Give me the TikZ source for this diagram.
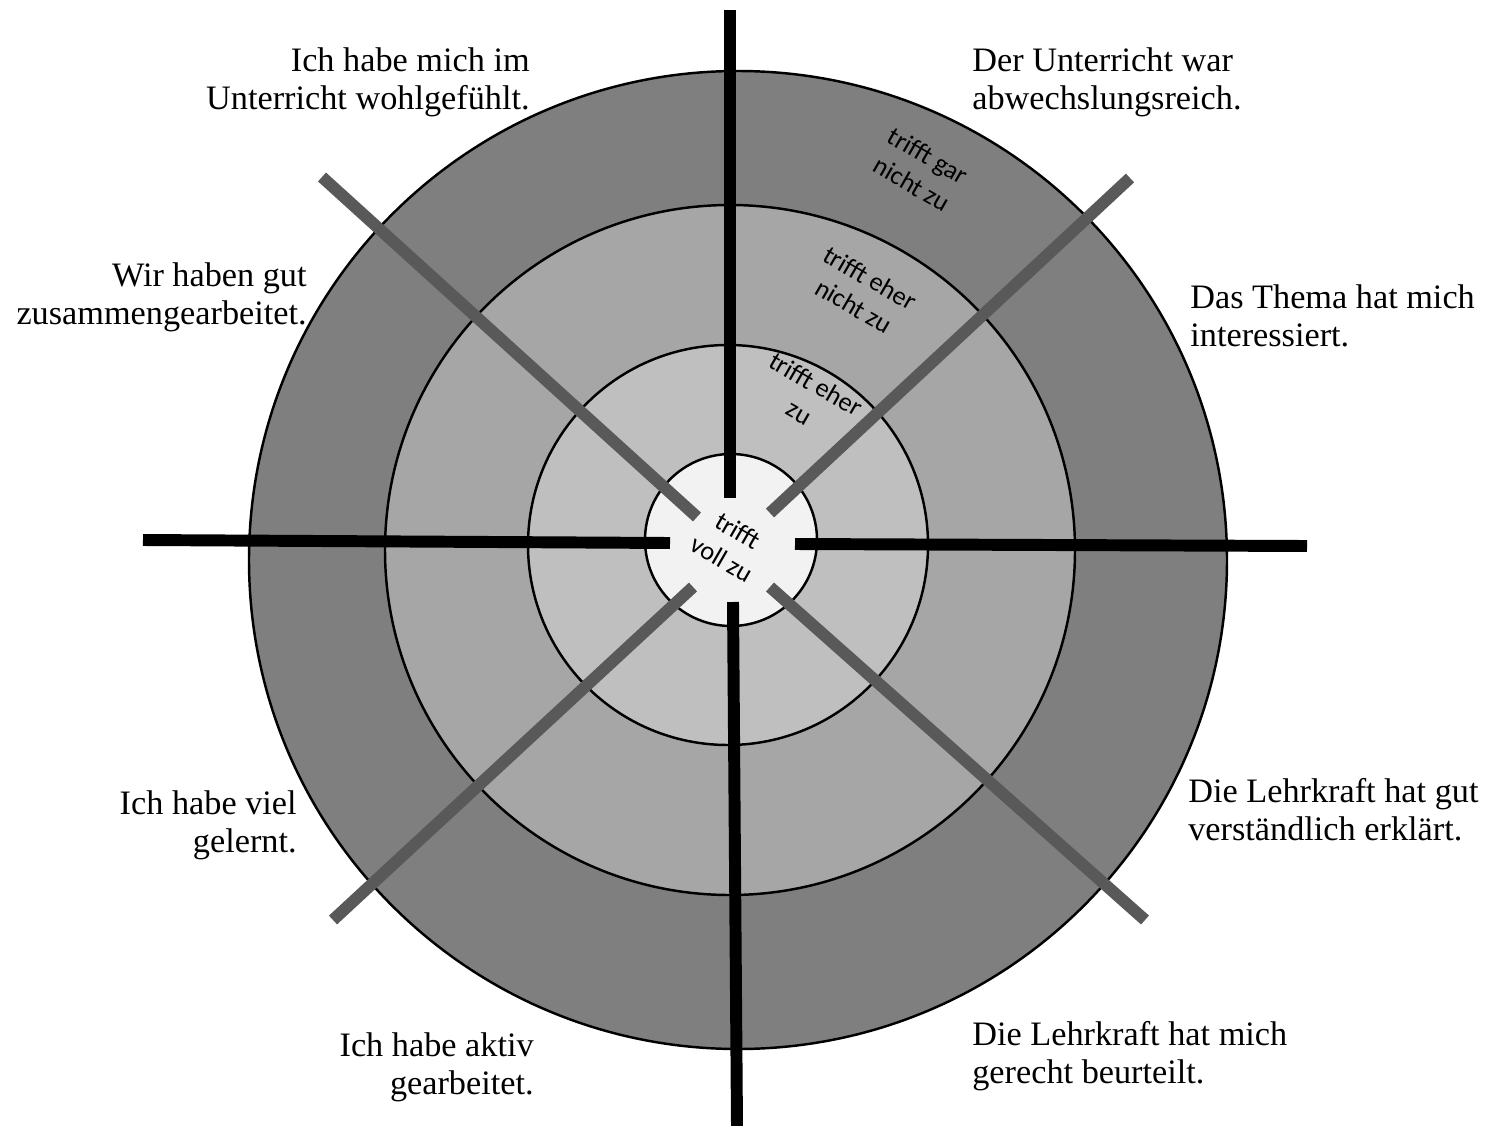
\documentclass[tikz,border=0pt]{standalone}
\usepackage{fontspec}
\setmainfont{Liberation Serif}
\newfontfamily\ringfont{Carlito}
\usepackage{xcolor}
\usetikzlibrary{positioning}

\definecolor{ringouter}{HTML}{7F7F7F}
\definecolor{ringtwo}{HTML}{A6A6A6}
\definecolor{ringthree}{HTML}{BFBFBF}
\definecolor{ringcenter}{HTML}{F2F2F2}
\definecolor{spokegray}{HTML}{595959}

\tikzset{
  ring/.style={draw=black, line width=1.4pt},
  mainspoke/.style={draw=black, line width=6.8pt},
  diagspoke/.style={draw=spokegray, line width=6.8pt},
  question/.style={font=\fontsize{19.5}{21.6}\selectfont, inner sep=0pt},
  level/.style={font=\ringfont\fontsize{15}{18.5}\selectfont, align=center, inner sep=0pt, rotate=-30}
}

\begin{document}
\begin{tikzpicture}[x=0.02cm, y=-0.02cm]
    \useasboundingbox (0,0) rectangle (1485,1126);

    % Rings
    \filldraw[ring, fill=ringouter] (738,560) circle (489);
    \filldraw[ring, fill=ringtwo] (730,550) circle (345);
    \filldraw[ring, fill=ringthree] (728,545) circle (200);
    \filldraw[ring, fill=ringcenter] (731,540) circle (86);

    % Level labels
    \node[level] (gar) at (920,170) {trifft gar\\nicht zu};
    \node[level] (ehernicht) at (862,292) {trifft eher\\nicht zu};
    \node[level] (eher) at (808,398) {trifft eher\\zu};
    \node[level] (voll) at (730,545) {trifft\\voll zu};

    % Spoke ends
    \coordinate (top) at (730,10);
    \coordinate (topin) at (730,498);
    \coordinate (bottom) at (737,1126);
    \coordinate (bottomin) at (733,602);
    \coordinate (left) at (143,540);
    \coordinate (leftin) at (670,543);
    \coordinate (right) at (1307,546);
    \coordinate (rightin) at (795,544);
    \coordinate (ul) at (322,177);
    \coordinate (ulin) at (697,517);
    \coordinate (ur) at (1130,178);
    \coordinate (urin) at (770,513);
    \coordinate (ll) at (333,920);
    \coordinate (llin) at (693,587);
    \coordinate (lr) at (1145,920);
    \coordinate (lrin) at (770,587);

    % Spokes
    \draw[mainspoke] (top) -- (topin);
    \draw[mainspoke] (bottom) -- (bottomin);
    \draw[mainspoke] (left) -- (leftin);
    \draw[mainspoke] (right) -- (rightin);
    \draw[diagspoke] (ul) -- (ulin);
    \draw[diagspoke] (ur) -- (urin);
    \draw[diagspoke] (ll) -- (llin);
    \draw[diagspoke] (lr) -- (lrin);

    % Statements
    \node[question, align=right, anchor=east] (wohl) at (530,82) {Ich habe mich im\\Unterricht wohlgefühlt.};
    \node[question, align=left, anchor=west] (abwechs) at (972,82) {Der Unterricht war\\abwechslungsreich.};
    \node[question, align=right, anchor=east] (zusammen) at (307,297) {Wir haben gut\\zusammengearbeitet.};
    \node[question, align=left, anchor=west] (thema) at (1190,316) {Das Thema hat mich\\interessiert.};
    \node[question, align=right, anchor=east] (gelernt) at (297,825) {Ich habe viel\\gelernt.};
    \node[question, align=left, anchor=west] (erklaert) at (1188,810) {Die Lehrkraft hat gut\\verständlich erklärt.};
    \node[question, align=right, anchor=east] (aktiv) at (534,1067) {Ich habe aktiv\\gearbeitet.};
    \node[question, align=left, anchor=west] (beurteilt) at (972,1056) {Die Lehrkraft hat mich\\gerecht beurteilt.};
\end{tikzpicture}
\end{document}
